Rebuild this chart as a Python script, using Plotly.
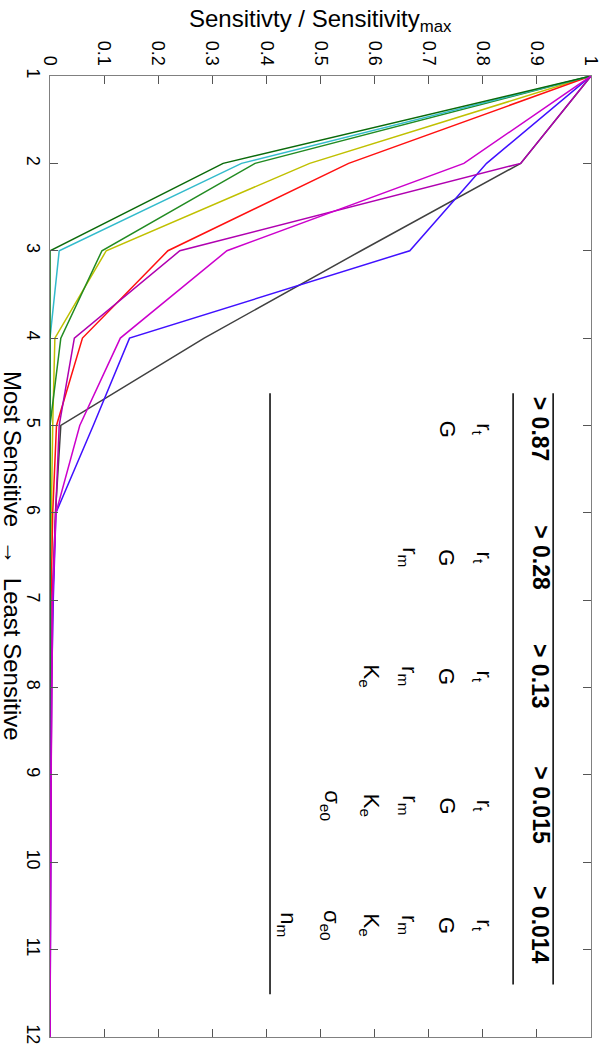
import plotly.graph_objects as go

RANK = list(range(1, 13))

DARK_GREEN = [1, 0.32, 0, 0, 0, 0, 0, 0, 0, 0, 0, 0]
CYAN = [1, 0.354, 0.017, 0, 0, 0, 0, 0, 0, 0, 0, 0]
GREEN = [1, 0.379, 0.096, 0.02, 0, 0, 0, 0, 0, 0, 0, 0]
YELLOW = [1, 0.48, 0.104, 0.009, 0.005, 0.002, 0, 0, 0, 0, 0, 0]
RED = [1, 0.552, 0.218, 0.06, 0.012, 0.005, 0.002, 0, 0, 0, 0, 0]
GRAY = [1, 0.87, 0.575, 0.285, 0.02, 0.01, 0.005, 0.002, 0.001, 0, 0, 0]
MAGENTA_B = [1, 0.87, 0.24, 0.045, 0.017, 0.01, 0.004, 0.003, 0.002, 0.001, 0.001, 0]
BLUE = [1, 0.807, 0.665, 0.147, 0.08, 0.011, 0.006, 0.003, 0.002, 0.001, 0.0005, 0]
MAGENTA_A = [1, 0.765, 0.327, 0.13, 0.055, 0.011, 0.005, 0.003, 0.002, 0.001, 0.001, 0]

SERIES = [
    (GRAY, "#404040"),
    (YELLOW, "#c0c000"),
    (RED, "#ff1010"),
    (GREEN, "#228b22"),
    (CYAN, "#33bbcc"),
    (DARK_GREEN, "#0a6a0a"),
    (BLUE, "#4010ff"),
    (MAGENTA_B, "#b000b0"),
    (MAGENTA_A, "#cc00cc"),
]

THRESHOLDS = ["> 0.87", "> 0.28", "> 0.13", "> 0.015", "> 0.014"]
PARAMS = ["r<sub>t</sub>", "G", "r<sub>m</sub>", "K<sub>e</sub>", "σ<sub>e0</sub>", "n<sub>m</sub>"]

FONT = "Liberation Sans, Arial, sans-serif"

fig = go.Figure()
for vals, color in SERIES:
    fig.add_trace(go.Scatter(x=vals, y=RANK, mode="lines",
                             line=dict(color=color, width=1.5),
                             showlegend=False, hoverinfo="skip"))

# table (rotated with the figure): column centres along the rank axis
col_y = [5.04, 6.51, 7.87, 9.35, 10.72]
row_x = [0.800, 0.734, 0.662, 0.591, 0.518, 0.438]

for i, th in enumerate(THRESHOLDS):
    fig.add_annotation(x=0.906, y=col_y[i], text=f"<b>{th}</b>", showarrow=False,
                       textangle=90, xanchor="center", yanchor="middle",
                       font=dict(size=23, color="black", family=FONT))
    for j in range(i + 2):
        fig.add_annotation(x=row_x[j], y=col_y[i], text=PARAMS[j], showarrow=False,
                           textangle=90, xanchor="center", yanchor="middle",
                           font=dict(size=22, color="black", family=FONT))

for xv, y1 in [(0.856, 11.40), (0.930, 11.40), (0.4067, 11.51)]:
    fig.add_shape(type="line", x0=xv, x1=xv, y0=4.63, y1=y1,
                  line=dict(color="black", width=1.5))

fig.add_annotation(xref="paper", yref="paper", x=-0.0695, y=0.5,
                   xanchor="center", yanchor="middle",
                   text="Most Sensitive\u00a0\u00a0\u2192\u00a0\u00a0Least Sensitive",
                   showarrow=False, textangle=90,
                   font=dict(size=24, color="black", family=FONT))
fig.add_annotation(xref="paper", yref="paper", x=0.5, y=1.058,
                   xanchor="center", yanchor="middle",
                   text="Sensitivty / Sensitivity<sub>max</sub>", showarrow=False,
                   font=dict(size=24, color="black", family=FONT))

fig.update_xaxes(range=[0, 1], side="top", dtick=0.1, tickangle=90, automargin=False,
                 showgrid=False, zeroline=False, showline=True, linecolor="#808080",
                 linewidth=1, mirror="ticks", ticks="inside", ticklen=8,
                 ticklabelstandoff=3, ticklabeloverflow="allow",
                 tickcolor="#555555", tickfont=dict(size=18, color="black", family=FONT))
fig.update_yaxes(range=[12, 1], tickvals=RANK, tickangle=90, automargin=False,
                 showgrid=False, zeroline=False, showline=True, linecolor="#808080",
                 linewidth=1, mirror="ticks", ticks="inside", ticklen=8,
                 ticklabelstandoff=0, ticklabeloverflow="allow",
                 tickcolor="#555555", tickfont=dict(size=18, color="black", family=FONT))

fig.update_layout(width=600, height=1049, margin=dict(l=50, r=9, t=76, b=12),
                  plot_bgcolor="white", paper_bgcolor="white",
                  font=dict(family=FONT))

# the page's default 8px body margin would shift the whole figure
fig.write_html("out.html", config={"displayModeBar": False},
               post_script="document.body.style.margin='0';")
